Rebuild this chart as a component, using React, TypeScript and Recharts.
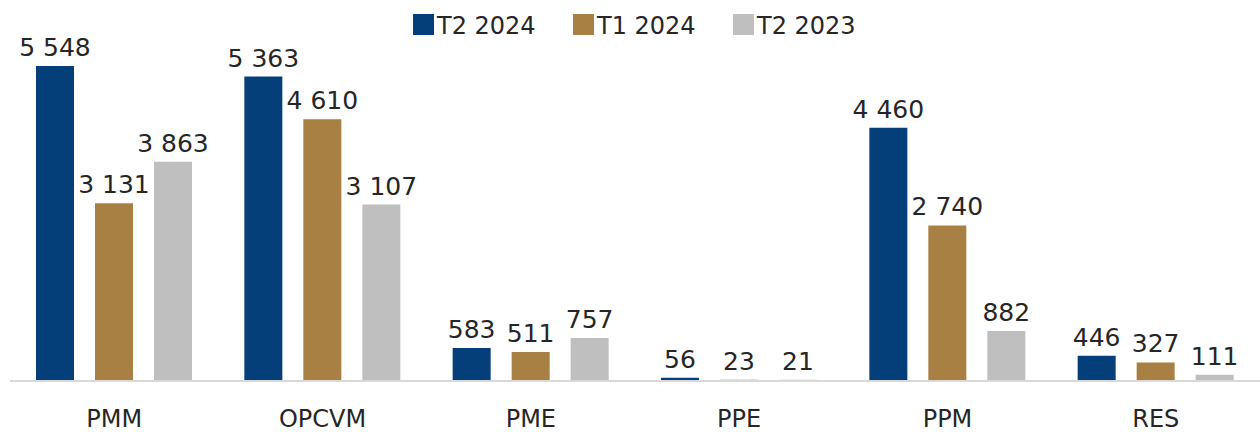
import React from 'react';
import { BarChart, Bar, XAxis, YAxis, Legend, LabelList } from 'recharts';

const categories = ['PMM', 'OPCVM', 'PME', 'PPE', 'PPM', 'RES'];
const t2_2024 = [5548, 5363, 583, 56, 4460, 446];
const t1_2024 = [3131, 4610, 511, 23, 2740, 327];
const t2_2023 = [3863, 3107, 757, 21, 882, 111];

const series = [
    { key: 't2_2024', name: 'T2 2024', color: '#043F7A' },
    { key: 't1_2024', name: 'T1 2024', color: '#A98043' },
    { key: 't2_2023', name: 'T2 2023', color: '#BFBFBF' },
];

const data = categories.map((cat, i) => ({
    cat,
    t2_2024: t2_2024[i],
    t1_2024: t1_2024[i],
    t2_2023: t2_2023[i],
}));

const FONT = '"DejaVu Sans", sans-serif';
const TEXT = '#262626';

// thousands separated by a no-break space so the label stays on one line
const fmt = (v: any) => String(v).replace(/\B(?=(\d{3})+(?!\d))/g, '\u00A0');

function LegendContent() {
    return (
        <div style={{ height: 29, width: 1260, position: 'relative', fontFamily: FONT }}>
            {series.map((s, i) => (
                <div
                    key={s.key}
                    style={{
                        position: 'absolute',
                        left: 413 + i * 160,
                        top: 14,
                        display: 'flex',
                        alignItems: 'center',
                        height: 21,
                    }}
                >
                    <span style={{ width: 21, height: 21, background: s.color, display: 'inline-block', marginRight: 3 }} />
                    <span style={{ fontSize: 24, color: TEXT, lineHeight: '21px', position: 'relative', top: 2 }}>{s.name}</span>
                </div>
            ))}
        </div>
    );
}

export default function App() {
    return (
        <div style={{ position: 'absolute', left: 0, top: 0, width: 1260, height: 432, background: '#fff' }}>
            <BarChart
                width={1260}
                height={432}
                data={data}
                margin={{ top: 0, right: 0, left: 10, bottom: 0 }}
                barSize={38}
                barGap={21}
            >
                <Legend
                    verticalAlign="top"
                    align="left"
                    content={<LegendContent />}
                    wrapperStyle={{ left: 0, top: 0, width: 1260, height: 29 }}
                />
                <XAxis
                    dataKey="cat"
                    height={51}
                    axisLine={{ stroke: '#D9D9D9', strokeWidth: 2 }}
                    tickLine={false}
                    tickSize={0}
                    tickMargin={29}
                    tick={{ fill: TEXT, fontSize: 24, fontFamily: FONT }}
                    interval={0}
                />
                <YAxis hide domain={[0, 6200]} />
                {series.map((s) => (
                    <Bar key={s.key} dataKey={s.key} name={s.name} fill={s.color} isAnimationActive={false}>
                        <LabelList
                            dataKey={s.key}
                            position="top"
                            offset={10}
                            formatter={fmt}
                            style={{ fill: TEXT, fontSize: 25, fontFamily: FONT }}
                        />
                    </Bar>
                ))}
            </BarChart>
        </div>
    );
}
